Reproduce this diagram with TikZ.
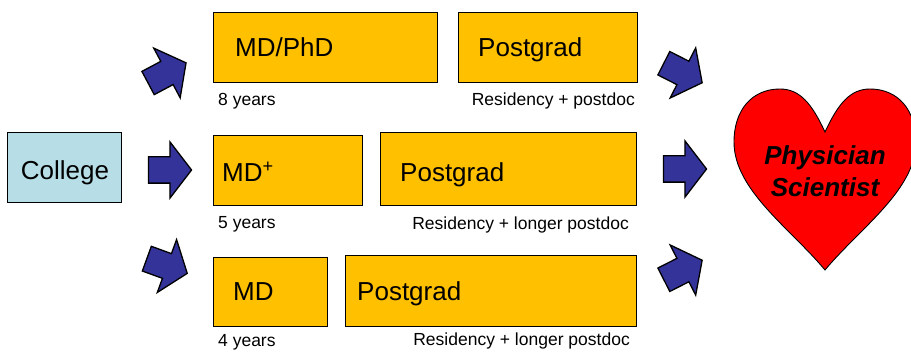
\documentclass[tikz,border=0pt]{standalone}
\usepackage{fontspec}
\setmainfont{Liberation Sans}
\usepackage{tikz}
\usetikzlibrary{positioning}
\usetikzlibrary{shapes.arrows}

\definecolor{boxyellow}{RGB}{255,192,0}
\definecolor{collegeblue}{RGB}{183,222,230}
\definecolor{arrowblue}{RGB}{51,51,153}
\definecolor{heartred}{RGB}{255,0,0}

\begin{document}
\begin{tikzpicture}[x=1pt,y=-1pt,
    stage/.style={draw=black,line width=1pt,fill=boxyellow,inner sep=0pt,anchor=north west},
    big/.style={font=\fontsize{26}{31}\selectfont,inner sep=0pt},
    small/.style={font=\fontsize{17.5}{21}\selectfont,inner sep=0pt},
    fat/.style={single arrow,draw=black,line width=1.3pt,fill=arrowblue,minimum height=43pt,
                minimum width=55pt,single arrow head extend=15pt,single arrow tip angle=105,
                inner xsep=0pt,inner ysep=12.5pt}]
  \useasboundingbox (0,0) rectangle (911,352);

  \node[stage,fill=collegeblue,minimum width=114pt,minimum height=70pt] (College) at (7,132) {};
  \node[stage,minimum width=224pt,minimum height=70pt] (MDPhD)  at (213,12)  {};
  \node[stage,minimum width=179pt,minimum height=70pt] (PostA)  at (458,12)  {};
  \node[stage,minimum width=149pt,minimum height=70pt] (MDPlus) at (213,135) {};
  \node[stage,minimum width=256pt,minimum height=73pt] (PostB)  at (380,132) {};
  \node[stage,minimum width=114pt,minimum height=69pt] (MD)     at (213,257) {};
  \node[stage,minimum width=291pt,minimum height=71pt] (PostC)  at (345,255) {};

  \node[big,anchor=base]        (Collegetext) at (65,180) {College};
  \node[big,anchor=base west]   (MDPhDtext)  at (235,57)  {MD/PhD};
  \node[big,anchor=base west]   (PostAtext)  at (478,57)  {Postgrad};
  \node[big,anchor=base west]   (MDPlustext) at (222,182) {MD\textsuperscript{+}};
  \node[big,anchor=base west]   (PostBtext)  at (400,182) {Postgrad};
  \node[big,anchor=base west]   (MDtext)     at (233,301) {MD};
  \node[big,anchor=base west]   (PostCtext)  at (357,301) {Postgrad};

  \node[small,anchor=base west] (eight)      at (218,106) {8 years};
  \node[small,anchor=base east] (resA)       at (635,106) {Residency + postdoc};
  \node[small,anchor=base west] (five)       at (218,229) {5 years};
  \node[small,anchor=base east] (resB)       at (629,230) {Residency + longer postdoc};
  \node[small,anchor=base west] (four)       at (218,347) {4 years};
  \node[small,anchor=base east] (resC)       at (630,346) {Residency + longer postdoc};

  \node[fat,rotate=28]  (inA)  at (162.6,75.3)  {};
  \node[fat]            (inB)  at (165,170)     {};
  \node[fat,rotate=-20] (inC)  at (162.3,264.3) {};
  \node[fat,rotate=-27] (outA) at (678.5,70.7)  {};
  \node[fat]            (outB) at (680,169)     {};
  \node[fat,rotate=27]  (outC) at (678.5,272.3) {};

  \draw[line width=0.9pt,fill=heartred]
    (825,132) .. controls (812,104) and (800,89) .. (780,89)
              .. controls (752,89) and (734,110) .. (734,142)
              .. controls (734,190) and (790,228) .. (825,270)
              .. controls (860,228) and (916,190) .. (916,142)
              .. controls (916,110) and (898,89) .. (870,89)
              .. controls (850,89) and (838,104) .. (825,132) -- cycle;
  \node[font=\fontsize{26}{32}\selectfont\bfseries\itshape,align=center,inner sep=0pt]
                                    (Goal)      at (825,171.5) {Physician\\Scientist};
\end{tikzpicture}
\end{document}
